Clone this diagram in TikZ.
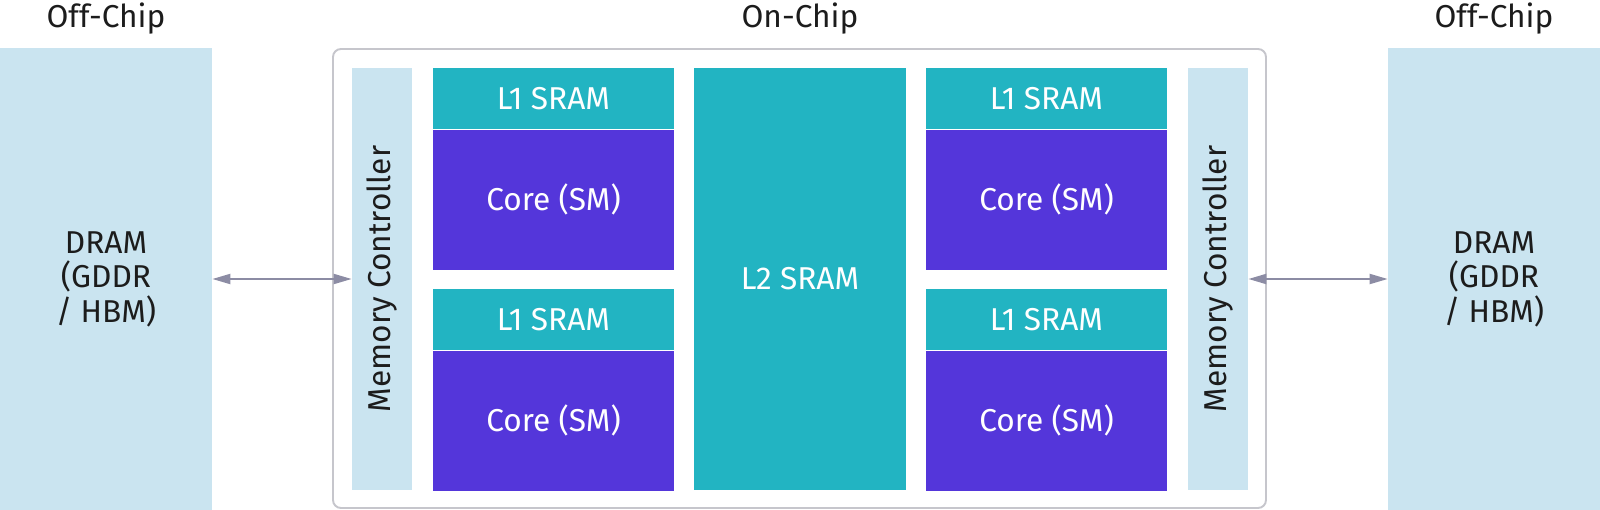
\documentclass[tikz,border=0pt]{standalone}
\usepackage{fontspec}
\setmainfont{Fira Sans}
\usetikzlibrary{arrows.meta,positioning}
\definecolor{dramblue}{HTML}{CAE4F0}
\definecolor{sramteal}{HTML}{22B4C2}
\definecolor{corepurple}{HTML}{5436DA}
\definecolor{chipgray}{HTML}{C6C6CC}
\definecolor{arrowgray}{HTML}{8C8CA4}
\definecolor{inkdark}{HTML}{1C1C1C}
\begin{document}
\begin{tikzpicture}[x=0.02cm, y=-0.02cm,
      every node/.style={font=\fontsize{18}{19.6}\selectfont, inner sep=0pt},
      dram/.style={fill=dramblue, text=inkdark, align=center, minimum width=4.24cm, minimum height=9.24cm},
      ctrl/.style={fill=dramblue, text=inkdark, minimum width=1.2cm, minimum height=8.44cm},
      lone/.style={fill=sramteal, text=white, minimum width=4.82cm, minimum height=1.22cm},
      core/.style={fill=corepurple, text=white, minimum width=4.82cm, minimum height=2.8cm},
      ltwo/.style={fill=sramteal, text=white, minimum width=4.24cm, minimum height=8.44cm},
      title/.style={text=inkdark, anchor=base},
      link/.style={arrowgray, line width=1.1pt, {Triangle[length=0.36cm, width=0.2cm]}-{Triangle[length=0.36cm, width=0.2cm]}}]
      \useasboundingbox (0,0) rectangle (1600,510);
      \draw[chipgray, line width=1.1pt, rounded corners=0.16cm] (333,49) rectangle (1266,508);
      \node (DL) [dram] at (106,279) {
         DRAM\\(GDDR\\/ HBM)
      };
      \node (DR) [dram] at (1494,279) {
         DRAM\\(GDDR\\/ HBM)
      };
      \node (MCL) [ctrl] at (382,279) {
         \rotatebox{90}{Memory Controller}
      };
      \node (MCR) [ctrl] at (1218,279) {
         \rotatebox{90}{Memory Controller}
      };
      \node (L2) [ltwo] at (800,279) {
         L2 SRAM
      };
      \node (LA) [lone] at (553.5,98.5) {
         L1 SRAM
      };
      \node (CA) [core, below=0pt of LA] {
         Core (SM)
      };
      \node (LB) [lone] at (553.5,319.5) {
         L1 SRAM
      };
      \node (CB) [core, below=0pt of LB] {
         Core (SM)
      };
      \node (LC) [lone] at (1046.5,98.5) {
         L1 SRAM
      };
      \node (CC) [core, below=0pt of LC] {
         Core (SM)
      };
      \node (LD) [lone] at (1046.5,319.5) {
         L1 SRAM
      };
      \node (CD) [core, below=0pt of LD] {
         Core (SM)
      };
      \node (OffL) [title] at (106,28) {Off-Chip};
      \node (On) [title] at (800,28) {On-Chip};
      \node (OffR) [title] at (1494,28) {Off-Chip};
      \draw[link] (DL.east) -- (MCL.west);
      \draw[link] (MCR.east) -- (DR.west);
\end{tikzpicture}
\end{document}
